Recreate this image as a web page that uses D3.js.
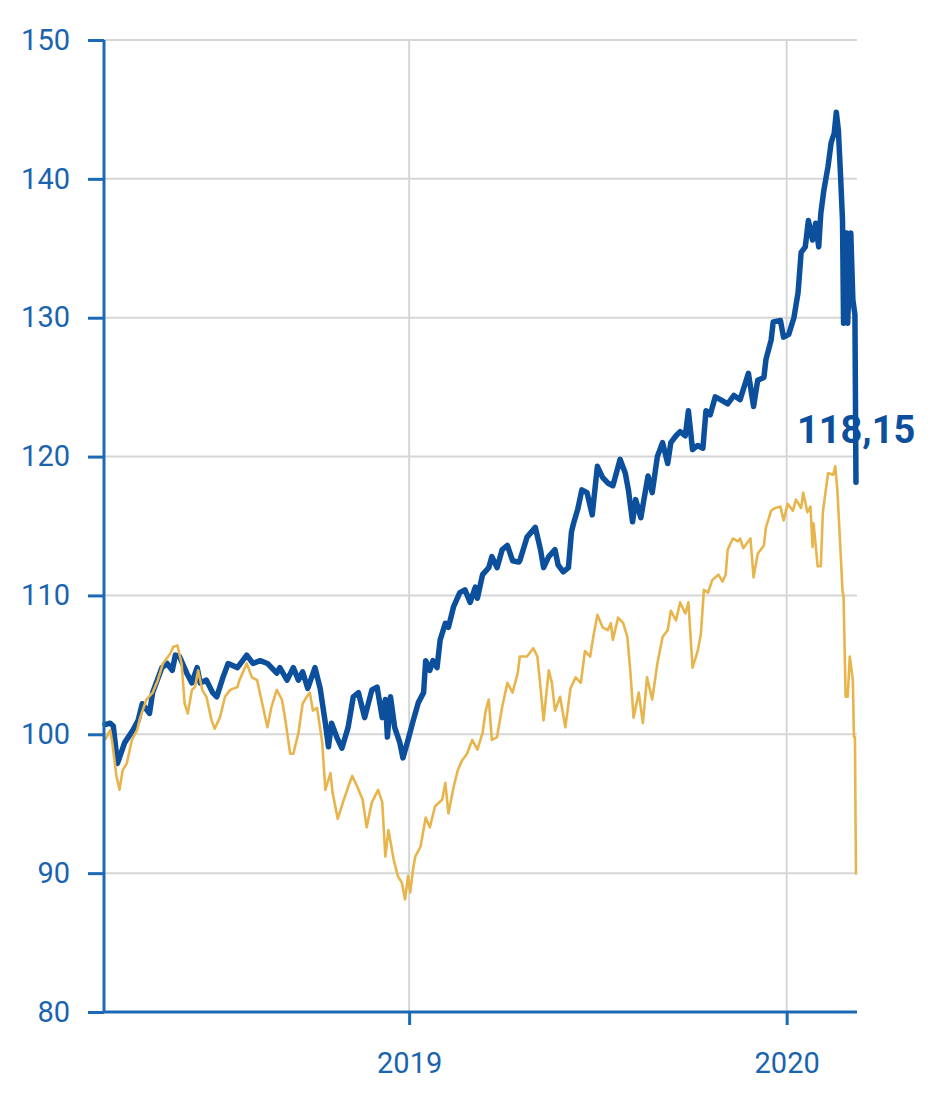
<!DOCTYPE html>
<html>
<head>
<meta charset="utf-8">
<script src="https://cdn.jsdelivr.net/npm/d3@7"></script>
<style>
  html, body { margin: 0; padding: 0; background: #fff; }
  svg { display: block; font-family: Roboto, "Noto Sans", sans-serif; }
</style>
</head>
<body>
<svg id="chart"></svg>
<script>
// values (index, start = 100)
const blueDates = [
  "2018-03-13","2018-03-18","2018-03-21","2018-03-25","2018-04-01","2018-04-09","2018-04-14","2018-04-18",
  "2018-04-25","2018-04-28","2018-05-07","2018-05-12","2018-05-17","2018-05-20","2018-05-24","2018-05-31",
  "2018-06-05","2018-06-10","2018-06-13","2018-06-19","2018-06-25","2018-06-29","2018-07-05","2018-07-10",
  "2018-07-19","2018-07-28","2018-08-03","2018-08-10","2018-08-17","2018-08-26","2018-08-29","2018-09-05",
  "2018-09-11","2018-09-16","2018-09-20","2018-09-25","2018-10-02","2018-10-07","2018-10-12","2018-10-15",
  "2018-10-18","2018-10-23","2018-10-28","2018-11-03","2018-11-08","2018-11-13","2018-11-19","2018-11-26",
  "2018-12-01","2018-12-06","2018-12-09","2018-12-11","2018-12-14","2018-12-18","2018-12-23","2018-12-26",
  "2018-12-31","2019-01-05","2019-01-10","2019-01-15","2019-01-17","2019-01-21","2019-01-24","2019-01-28",
  "2019-01-31","2019-02-05","2019-02-08","2019-02-13","2019-02-19","2019-02-24","2019-03-01","2019-03-06",
  "2019-03-08","2019-03-13","2019-03-19","2019-03-22","2019-03-27","2019-04-01","2019-04-06","2019-04-11",
  "2019-04-17","2019-04-18","2019-04-25","2019-05-03","2019-05-08","2019-05-11","2019-05-16","2019-05-22",
  "2019-05-25","2019-05-30","2019-06-04","2019-06-07","2019-06-09","2019-06-13","2019-06-17","2019-06-22",
  "2019-06-27","2019-07-02","2019-07-07","2019-07-12","2019-07-17","2019-07-24","2019-07-29","2019-08-01",
  "2019-08-05","2019-08-08","2019-08-13","2019-08-16","2019-08-20","2019-08-24","2019-08-29","2019-09-03",
  "2019-09-08","2019-09-11","2019-09-16","2019-09-20","2019-09-25","2019-09-28","2019-10-02","2019-10-07",
  "2019-10-12","2019-10-15","2019-10-19","2019-10-24","2019-10-29","2019-11-05","2019-11-11","2019-11-17",
  "2019-11-25","2019-11-30","2019-12-04","2019-12-10","2019-12-12","2019-12-17","2019-12-19","2019-12-26",
  "2019-12-29","2020-01-03","2020-01-08","2020-01-12","2020-01-15","2020-01-19","2020-01-22","2020-01-26",
  "2020-01-29","2020-02-01","2020-02-03","2020-02-06","2020-02-10","2020-02-13","2020-02-16","2020-02-18",
  "2020-02-20","2020-02-22","2020-02-24","2020-02-25","2020-02-28","2020-02-29","2020-03-03","2020-03-05",
  "2020-03-07","2020-03-08"
];
const blueValues = [
  100.7,100.8,100.6,97.9,99.4,100.3,101.0,102.2,
  101.5,103.0,104.8,105.1,104.6,105.7,105.6,104.4,
  103.7,104.8,103.7,103.9,103.0,102.7,104.1,105.1,
  104.8,105.7,105.1,105.3,105.1,104.4,104.8,103.9,
  104.8,103.9,104.5,103.3,104.8,103.3,100.8,99.1,
  100.8,99.8,99.0,100.5,102.7,103.0,101.2,103.2,
  103.4,101.2,102.5,99.8,102.7,100.5,99.4,98.3,
  99.6,101.0,102.3,103.0,105.3,104.6,105.3,104.8,
  106.8,108.0,107.7,109.2,110.2,110.4,109.5,110.6,
  109.8,111.5,112.0,112.8,112.0,113.3,113.6,112.5,
  112.4,112.5,114.2,114.9,113.3,112.0,112.8,113.3,
  112.2,111.7,112.0,114.6,115.2,116.2,117.6,117.4,
  115.8,119.3,118.5,118.1,117.9,119.8,118.8,117.6,
  115.3,116.9,115.6,116.9,118.6,117.4,120.0,121.0,
  119.5,121.0,121.5,121.8,121.5,123.3,120.5,120.8,
  120.6,123.3,123.0,124.3,124.1,123.8,124.4,124.1,
  126.0,123.6,125.5,125.7,127.0,128.4,129.7,129.8,
  128.6,128.8,130.0,131.8,134.7,135.1,137.0,135.6,
  136.8,135.1,137.5,139.2,140.9,142.6,143.3,144.8,
  143.5,140.4,137.0,129.6,136.1,129.6,136.1,131.3,
  130.2,118.15
];

const yellowDates = [
  "2018-03-13","2018-03-18","2018-03-20","2018-03-24","2018-03-27","2018-03-30","2018-04-03","2018-04-08",
  "2018-04-13","2018-04-16","2018-04-22","2018-04-28","2018-05-03","2018-05-08","2018-05-15","2018-05-18",
  "2018-05-22","2018-05-26","2018-05-29","2018-06-01","2018-06-05","2018-06-08","2018-06-11","2018-06-15",
  "2018-06-19","2018-06-24","2018-06-27","2018-07-02","2018-07-07","2018-07-12","2018-07-19","2018-07-21",
  "2018-07-28","2018-08-02","2018-08-07","2018-08-12","2018-08-17","2018-08-21","2018-08-26","2018-08-31",
  "2018-09-03","2018-09-08","2018-09-11","2018-09-16","2018-09-20","2018-09-24","2018-09-27","2018-09-30",
  "2018-10-04","2018-10-09","2018-10-12","2018-10-17","2018-10-19","2018-10-24","2018-10-29","2018-11-03",
  "2018-11-07","2018-11-12","2018-11-17","2018-11-21","2018-11-26","2018-12-02","2018-12-06","2018-12-09",
  "2018-12-12","2018-12-17","2018-12-21","2018-12-25","2018-12-28","2018-12-31","2019-01-02","2019-01-05",
  "2019-01-07","2019-01-12","2019-01-17","2019-01-21","2019-01-26","2019-02-02","2019-02-05","2019-02-08",
  "2019-02-13","2019-02-17","2019-02-21","2019-02-26","2019-03-03","2019-03-08","2019-03-13","2019-03-16",
  "2019-03-19","2019-03-22","2019-03-27","2019-04-01","2019-04-06","2019-04-11","2019-04-16","2019-04-18",
  "2019-04-25","2019-05-01","2019-05-05","2019-05-08","2019-05-11","2019-05-16","2019-05-19","2019-05-22",
  "2019-05-27","2019-06-01","2019-06-06","2019-06-11","2019-06-16","2019-06-20","2019-06-25","2019-06-28",
  "2019-07-02","2019-07-07","2019-07-12","2019-07-15","2019-07-17","2019-07-22","2019-07-27","2019-07-31",
  "2019-08-03","2019-08-06","2019-08-11","2019-08-15","2019-08-19","2019-08-24","2019-08-29","2019-09-03",
  "2019-09-08","2019-09-11","2019-09-16","2019-09-20","2019-09-25","2019-09-28","2019-10-02","2019-10-07",
  "2019-10-10","2019-10-13","2019-10-17","2019-10-21","2019-10-27","2019-10-31","2019-11-03","2019-11-05",
  "2019-11-10","2019-11-15","2019-11-17","2019-11-20","2019-11-27","2019-11-30","2019-12-04","2019-12-10",
  "2019-12-12","2019-12-17","2019-12-21","2019-12-26","2019-12-29","2020-01-02","2020-01-07","2020-01-10",
  "2020-01-15","2020-01-17","2020-01-21","2020-01-24","2020-01-26","2020-01-27","2020-01-31","2020-02-03",
  "2020-02-05","2020-02-10","2020-02-15","2020-02-16","2020-02-17","2020-02-19","2020-02-22","2020-02-24",
  "2020-02-25","2020-02-27","2020-02-29","2020-03-02","2020-03-05","2020-03-06","2020-03-07","2020-03-08"
];
const yellowValues = [
  99.6,100.3,99.4,97.0,96.0,97.4,97.9,99.6,
  100.3,101.2,102.5,103.0,103.9,105.1,105.8,106.3,
  106.4,105.1,102.2,101.5,103.2,103.4,104.6,103.2,
  102.7,101.0,100.4,101.2,102.7,103.2,103.4,103.9,
  105.1,104.1,103.9,102.2,100.5,102.0,103.2,102.5,
  101.2,98.6,98.6,100.1,102.2,102.7,103.0,101.7,
  101.9,99.4,96.0,97.2,95.8,93.9,95.1,96.2,
  97.0,96.2,95.3,93.3,95.1,96.0,95.1,91.2,
  93.1,91.0,89.8,89.3,88.1,89.8,88.6,90.4,
  91.2,91.9,94.0,93.3,94.8,95.3,96.5,94.3,
  96.2,97.4,98.1,98.6,99.6,98.9,100.1,101.7,
  102.5,99.6,99.8,102.0,103.7,103.0,104.4,105.6,
  105.6,106.2,105.6,103.4,101.0,104.6,103.7,101.7,
  102.7,100.5,103.3,104.1,103.7,106.0,105.6,107.0,
  108.6,107.7,107.5,108.0,106.8,108.4,108.0,107.0,
  104.4,101.2,103.0,100.8,104.1,102.5,105.1,107.0,
  107.5,108.9,108.2,109.5,108.7,109.5,104.8,106.0,
  107.2,110.4,110.2,111.1,111.5,111.0,111.5,113.3,
  114.1,113.9,114.1,113.4,114.1,111.3,113.0,113.6,
  114.9,116.1,116.3,116.4,115.4,116.6,116.1,116.9,
  116.3,117.4,116.0,116.4,113.5,115.2,112.1,112.1,
  116.0,118.8,118.7,119.0,119.3,117.6,113.3,110.3,
  109.9,102.7,102.7,105.6,103.9,99.8,99.8,89.9
];

const yTicks = [80, 90, 100, 110, 120, 130, 140, 150];
const xTickYears = ["2019", "2020"];
const lastLabel = "118,15";

const W = 931, H = 1106;
const plotLeft = 104, plotRight = 857, plotTop = 40, plotBottom = 1012;
const axisBlue = "#1c6ab6", textBlue = "#1a64ae", lineBlue = "#0c4f9d", lineYellow = "#e8b54d", gridGrey = "#d6d6d6";

const parse = d3.timeParse("%Y-%m-%d");
const blue = blueDates.map((d, i) => ({date: parse(d), value: blueValues[i]}));
const yellow = yellowDates.map((d, i) => ({date: parse(d), value: yellowValues[i]}));

const svg = d3.select("#chart").attr("width", W).attr("height", H);

const x = d3.scaleTime()
    .domain([parse("2018-03-12"), parse("2020-03-09")])
    .range([plotLeft, plotRight]);
const y = d3.scaleLinear()
    .domain([80, 150])
    .range([plotBottom, plotTop]);
const xTicks = xTickYears.map(s => d3.timeParse("%Y")(s));

// grid
svg.append("g").selectAll("line")
    .data(yTicks.filter(v => v > 80))
    .enter().append("line")
    .attr("x1", plotLeft).attr("x2", plotRight)
    .attr("y1", d => y(d)).attr("y2", d => y(d))
    .attr("stroke", gridGrey).attr("stroke-width", 2);
svg.append("g").selectAll("line")
    .data(xTicks)
    .enter().append("line")
    .attr("x1", d => x(d)).attr("x2", d => x(d))
    .attr("y1", plotTop).attr("y2", plotBottom)
    .attr("stroke", gridGrey).attr("stroke-width", 2);

// lines (blue under yellow)
const line = d3.line().x(d => x(d.date)).y(d => y(d.value));
svg.append("path").datum(blue)
    .attr("d", line).attr("fill", "none")
    .attr("stroke", lineBlue).attr("stroke-width", 5.5)
    .attr("stroke-linejoin", "round").attr("stroke-linecap", "round");
svg.append("path").datum(yellow)
    .attr("d", line).attr("fill", "none")
    .attr("stroke", lineYellow).attr("stroke-width", 2.6)
    .attr("stroke-linejoin", "round");

// y axis
const yAxis = svg.append("g")
    .attr("transform", "translate(" + plotLeft + ",0)")
    .call(d3.axisLeft(y).tickValues(yTicks).tickSize(16).tickPadding(18).tickFormat(d3.format("d")));
yAxis.select(".domain").attr("stroke", axisBlue).attr("stroke-width", 3).attr("d", "M0," + plotTop + "V" + plotBottom);
yAxis.selectAll(".tick line").attr("stroke", axisBlue).attr("stroke-width", 3);
yAxis.selectAll(".tick text").attr("fill", textBlue).style("font-size", "29px").style("font-family", "Roboto");

// x axis
const xAxis = svg.append("g")
    .attr("transform", "translate(0," + plotBottom + ")")
    .call(d3.axisBottom(x).tickValues(xTicks).tickSize(13).tickPadding(27).tickFormat(d3.timeFormat("%Y")));
xAxis.select(".domain").attr("stroke", axisBlue).attr("stroke-width", 3).attr("d", "M" + plotLeft + ",0H" + plotRight);
xAxis.selectAll(".tick line").attr("stroke", axisBlue).attr("stroke-width", 3);
xAxis.selectAll(".tick text").attr("fill", textBlue).style("font-size", "29px").style("font-family", "Roboto");

// last value label
const last = blue[blue.length - 1];
svg.append("text")
    .attr("x", x(last.date) - 59)
    .attr("y", 443)
    .attr("fill", lineBlue)
    .style("font-size", "38px")
    .style("font-weight", "bold")
    .style("font-family", "Roboto")
    .text(lastLabel);
</script>
</body>
</html>
